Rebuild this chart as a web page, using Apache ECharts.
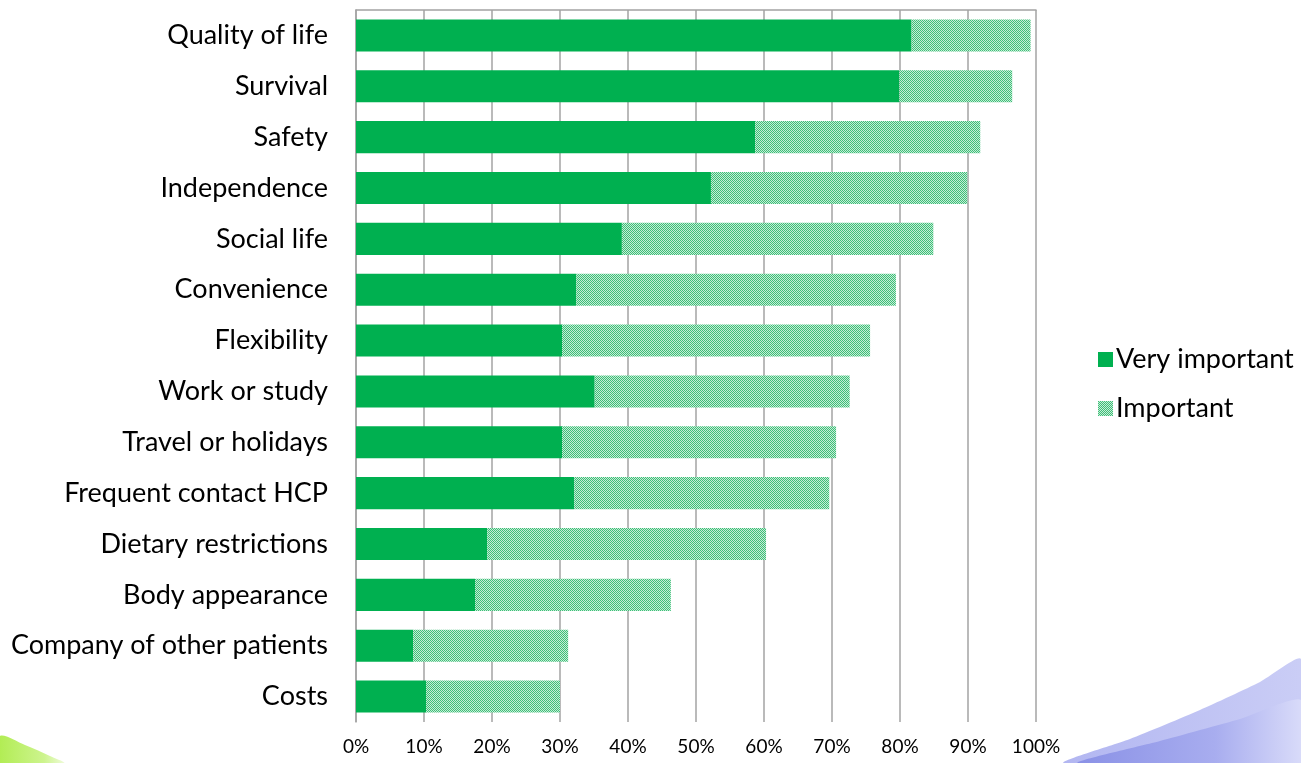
<!DOCTYPE html>
<html>
<head>
<meta charset="utf-8">
<style>
  html, body { margin: 0; padding: 0; background: #ffffff; }
  #chart { width: 1301px; height: 763px; }
</style>
<script src="https://cdn.jsdelivr.net/npm/echarts@6/dist/echarts.min.js"></script>
</head>
<body>
<div id="chart"></div>
<script>
const categories = [
  "Quality of life", "Survival", "Safety", "Independence", "Social life",
  "Convenience", "Flexibility", "Work or study", "Travel or holidays",
  "Frequent contact HCP", "Dietary restrictions", "Body appearance",
  "Company of other patients", "Costs"
];
const veryImportant = [81.7, 79.9, 58.7, 52.2, 39.1, 32.4, 30.3, 35.1, 30.3, 32.1, 19.3, 17.5, 8.4, 10.3];
const important =     [17.5, 16.6, 33.1, 37.7, 45.8, 47.0, 45.3, 37.5, 40.3, 37.5, 41.0, 28.8, 22.8, 19.7];
const xTicks = [0, 10, 20, 30, 40, 50, 60, 70, 80, 90, 100];

const FONT = 'Lato';

function makePattern() {
  const c = document.createElement('canvas');
  c.width = 4; c.height = 4;
  const ctx = c.getContext('2d');
  ctx.fillStyle = '#c6ecd6';
  ctx.fillRect(0, 0, 4, 4);
  ctx.fillStyle = '#3dbf78';
  const dots = [[0, 0], [2, 0], [1, 1], [3, 1], [0, 2], [2, 2], [1, 3], [3, 3]];
  dots.forEach(function (d) { ctx.fillRect(d[0], d[1], 1, 1); });
  return c;
}

const chart = echarts.init(document.getElementById('chart'), null, { renderer: 'canvas' });
const pattern = { image: makePattern(), repeat: 'repeat' };

chart.setOption({
  backgroundColor: '#ffffff',
  animation: false,
  grid: { left: 356, right: 265, top: 10, bottom: 41, containLabel: false },
  legend: {
    orient: 'vertical',
    left: 1093,
    top: 341,
    itemWidth: 15,
    itemHeight: 15,
    itemGap: 22,
    icon: 'rect',
    textStyle: { fontFamily: FONT, fontSize: 27, color: '#000000', padding: [0, 0, 0, -2] },
    data: ['Very important', 'Important']
  },
  xAxis: [{
    type: 'value',
    min: 0, max: 100, interval: 10,
    axisLine: { show: false },
    axisTick: { show: false },
    splitLine: { show: true, lineStyle: { color: '#a3a3a3', width: 1.5 } },
    axisLabel: {
      formatter: function (v) { return xTicks.indexOf(v) >= 0 ? v + '%' : ''; },
      fontFamily: FONT, fontSize: 19, color: '#000000', margin: 15
    }
  }, {
    type: 'value', position: 'top',
    min: 0, max: 100, interval: 10,
    axisLine: { show: true, lineStyle: { color: '#a3a3a3', width: 1.5 } },
    axisTick: { show: false },
    splitLine: { show: false },
    axisLabel: { show: false }
  }],
  yAxis: {
    type: 'category',
    data: categories,
    inverse: true,
    axisLine: { show: true, lineStyle: { color: '#a3a3a3', width: 1.5 } },
    axisTick: { show: false },
    axisLabel: { fontFamily: FONT, fontSize: 27, color: '#000000', margin: 28 }
  },
  series: [{
    name: 'Very important',
    type: 'bar',
    stack: 'total',
    data: veryImportant,
    barCategoryGap: '37%',
    itemStyle: { color: '#00b050' }
  }, {
    name: 'Important',
    type: 'bar',
    stack: 'total',
    data: important,
    barCategoryGap: '37%',
    itemStyle: { color: pattern }
  }],
  graphic: [
    {
      type: 'polygon', silent: true, z: -1,
      shape: { points: [[0, 736], [25, 745], [50, 756], [64, 763], [0, 763]], smooth: 0.3 },
      style: {
        fill: new echarts.graphic.LinearGradient(0, 0, 1, 0, [
          { offset: 0, color: '#b0ec50' }, { offset: 0.7, color: '#cdf48e' }, { offset: 1, color: '#eefbd8' }
        ])
      }
    },
    {
      type: 'polygon', silent: true, z: -1,
      shape: { points: [[1064, 763], [1130, 739], [1200, 710], [1260, 682], [1301, 659], [1301, 763]], smooth: 0.2 },
      style: {
        fill: new echarts.graphic.LinearGradient(0, 0, 1, 0, [
          { offset: 0, color: '#b2b6f1' }, { offset: 1, color: '#cbcef6' }
        ])
      }
    },
    {
      type: 'polygon', silent: true, z: -1,
      shape: { points: [[1078, 763], [1160, 741], [1240, 719], [1301, 700], [1301, 763]], smooth: 0.2 },
      style: {
        fill: new echarts.graphic.LinearGradient(0, 0, 1, 0, [
          { offset: 0, color: '#8a91e6' }, { offset: 0.6, color: '#a8adef' }, { offset: 1, color: '#dcdefa' }
        ])
      }
    }
  ]
});
</script>
</body>
</html>
